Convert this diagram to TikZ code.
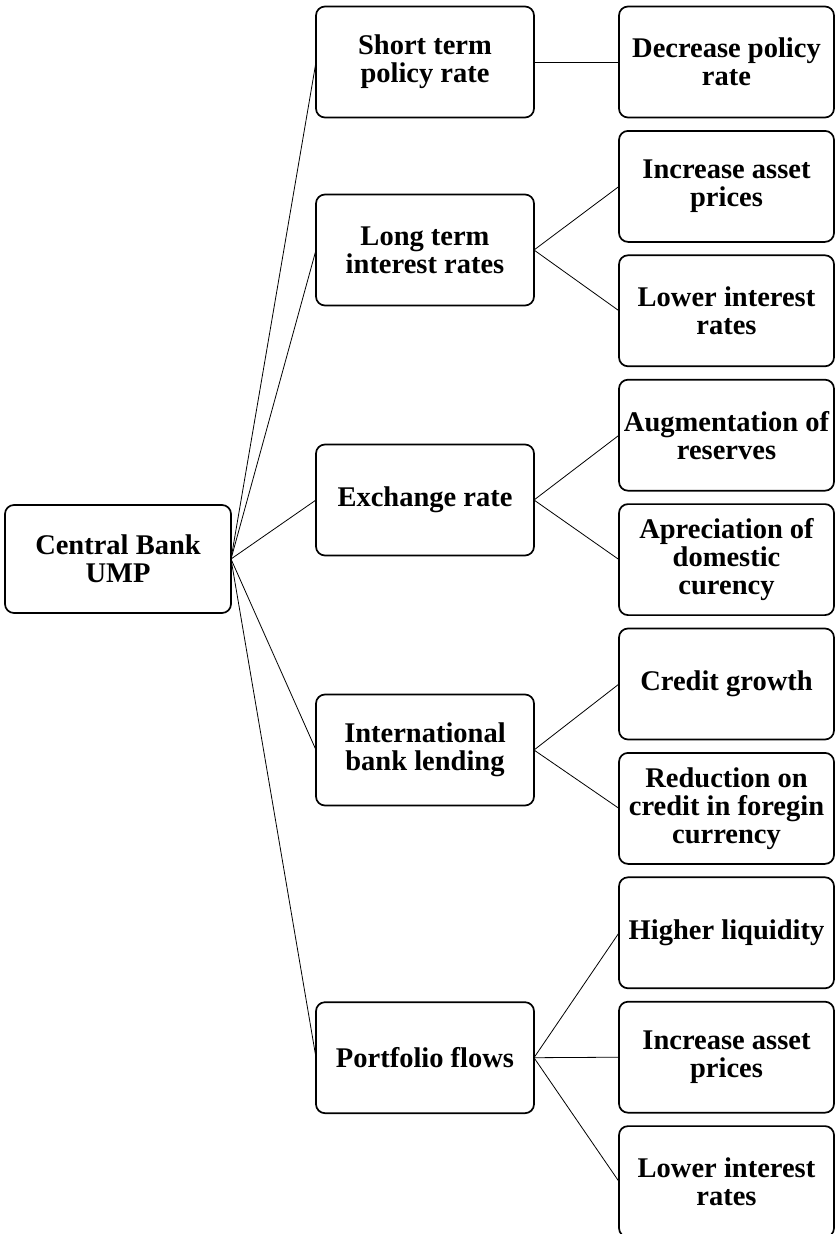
\documentclass[tikz,border=0pt]{standalone}
\usepackage{fontspec}
\setmainfont{Liberation Serif}
\usetikzlibrary{positioning}

\begin{document}
\begin{tikzpicture}[
    x=1pt, y=-1pt,
    font=\fontsize{28.5}{28}\selectfont\bfseries,
    box/.style={draw=black, line width=1.7pt, rounded corners=9pt, align=center, inner sep=0pt, outer sep=0pt, minimum height=111pt},
    rootbox/.style={box, minimum width=226pt, minimum height=108pt},
    midbox/.style={box, minimum width=218pt},
    leafbox/.style={box, minimum width=215pt},
    link/.style={draw=black, line width=0.8pt},
    node distance=13.4pt,
]
\useasboundingbox (0,0) rectangle (837,1234);

% ----------------------------------------------------------------- root ---
\node[rootbox] (ump) at (118,559) {Central Bank\\UMP};

% ------------------------------------------------------------- channels ---
\node[midbox] (srate) at (425,62)   {Short term\\policy rate};
\node[midbox] (lrate) at (425,250)  {Long term\\interest rates};
\node[midbox] (xrate) at (425,500)  {Exchange rate};
\node[midbox] (lend)  at (425,750)  {International\\bank lending};
\node[midbox] (pflow) at (425,1057.7) {Portfolio flows};

% -------------------------------------------------------------- effects ---
\node[leafbox, right=85pt of srate] (cut) {Decrease policy\\rate};
\node[leafbox, below=of cut]    (asset)  {Increase asset\\prices};
\node[leafbox, below=of asset]  (lower)  {Lower interest\\rates};
\node[leafbox, below=of lower]  (resv)   {Augmentation of\\reserves};
\node[leafbox, below=of resv]   (apprec) {Apreciation of\\domestic\\curency};
\node[leafbox, below=of apprec] (credit) {Credit growth};
\node[leafbox, below=of credit] (fxcred) {Reduction on\\credit in foregin\\currency};
\node[leafbox, below=of fxcred] (liq)    {Higher liquidity};
\node[leafbox, below=of liq]    (asset2) {Increase asset\\prices};
\node[leafbox, below=of asset2] (lower2) {Lower interest\\rates};

% ---------------------------------------------------------------- links ---
\foreach \m in {srate,lrate,xrate,lend,pflow}
  \draw[link] (ump.east) -- (\m.west);

\foreach \a/\b in {srate/cut, lrate/asset, lrate/lower, xrate/resv, xrate/apprec,
                   lend/credit, lend/fxcred, pflow/liq, pflow/asset2, pflow/lower2}
  \draw[link] (\a.east) -- (\b.west);

\end{tikzpicture}
\end{document}
